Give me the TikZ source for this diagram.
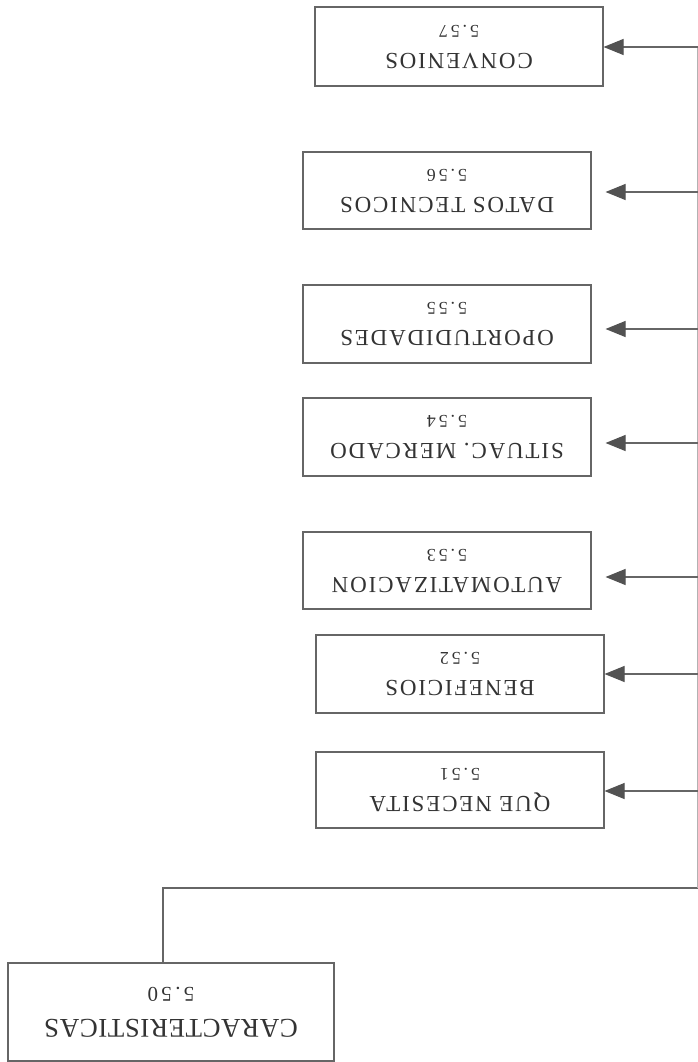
\documentclass[tikz,border=0pt]{standalone}
\usepackage{fontspec}
\setmainfont{Liberation Serif}
\newfontfamily\boxfont[LetterSpace=8]{Liberation Serif}
\newfontfamily\numfont[LetterSpace=16]{Liberation Serif}
\newfontfamily\bigfont[LetterSpace=2]{Liberation Serif}
\usetikzlibrary{arrows.meta}
\begin{document}
\begin{tikzpicture}[x=1pt,y=-1pt,
  box/.style={draw=black!60, line width=1.1pt, rectangle, rotate=180, align=center,
    text=black!80, inner sep=0pt, minimum width=288pt, minimum height=78pt,
    font=\boxfont\fontsize{23}{28}\selectfont},
  conn/.style={draw=black!60, line width=1.1pt},
  arr/.style={conn, -{Triangle[length=20pt,width=16pt,color=black!68]}}]
\useasboundingbox[fill=white] (0,0) rectangle (698,1062);

\node[box, minimum height=79pt] (b57) at (459,46.5) {CONVENIOS\\{\numfont\fontsize{18}{20}\selectfont 5.57}};
\node[box, minimum height=77pt] (b56) at (447,190.5) {DATOS TECNICOS\\{\numfont\fontsize{18}{20}\selectfont 5.56}};
\node[box] (b55) at (447,324) {OPORTUDIDADES\\{\numfont\fontsize{18}{20}\selectfont 5.55}};
\node[box] (b54) at (447,437) {SITUAC. MERCADO\\{\numfont\fontsize{18}{20}\selectfont 5.54}};
\node[box, minimum height=77pt] (b53) at (447,570.5) {AUTOMATIZACION\\{\numfont\fontsize{18}{20}\selectfont 5.53}};
\node[box] (b52) at (460,674) {BENEFICIOS\\{\numfont\fontsize{18}{20}\selectfont 5.52}};
\node[box, minimum height=76pt] (b51) at (460,790) {QUE NECESITA\\{\numfont\fontsize{18}{20}\selectfont 5.51}};
\node[box, minimum width=326pt, minimum height=98pt, font=\bigfont\fontsize{27}{32}\selectfont] (b50) at (171,1012) {CARACTERISTICAS\\{\numfont\fontsize{21}{22}\selectfont 5.50}};

\coordinate (top) at (697.5,47);
\coordinate (junc) at (697.5,888);
\coordinate (knee) at (163,888);
\coordinate (s57) at (697.5,47);
\coordinate (s56) at (697.5,192);
\coordinate (s55) at (697.5,329);
\coordinate (s54) at (697.5,443);
\coordinate (s53) at (697.5,577);
\coordinate (s52) at (697.5,674);
\coordinate (s51) at (697.5,791);

\draw[conn] (b50.south -| knee) -- (knee) -- (junc);
\draw[conn, draw=black!30] (junc) -- (top);

\draw[arr] (s57) -- (s57 -| b57.west);
\draw[arr, shorten >=14pt] (s56) -- (s56 -| b56.west);
\draw[arr, shorten >=14pt] (s55) -- (s55 -| b55.west);
\draw[arr, shorten >=14pt] (s54) -- (s54 -| b54.west);
\draw[arr, shorten >=14pt] (s53) -- (s53 -| b53.west);
\draw[arr] (s52) -- (s52 -| b52.west);
\draw[arr] (s51) -- (s51 -| b51.west);
\end{tikzpicture}
\end{document}
